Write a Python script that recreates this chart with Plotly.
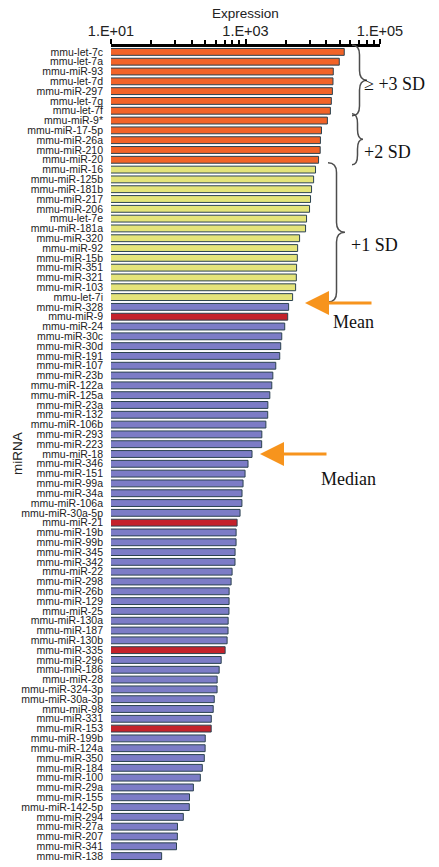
import plotly.graph_objects as go

mirnas = [
    "mmu-let-7c", "mmu-let-7a", "mmu-miR-93", "mmu-let-7d", "mmu-miR-297", "mmu-let-7g",
    "mmu-let-7f", "mmu-miR-9*", "mmu-miR-17-5p", "mmu-miR-26a", "mmu-miR-210", "mmu-miR-20",
    "mmu-miR-16", "mmu-miR-125b", "mmu-miR-181b", "mmu-miR-217", "mmu-miR-206", "mmu-let-7e",
    "mmu-miR-181a", "mmu-miR-320", "mmu-miR-92", "mmu-miR-15b", "mmu-miR-351", "mmu-miR-321",
    "mmu-miR-103", "mmu-let-7i", "mmu-miR-328", "mmu-miR-9", "mmu-miR-24", "mmu-miR-30c",
    "mmu-miR-30d", "mmu-miR-191", "mmu-miR-107", "mmu-miR-23b", "mmu-miR-122a", "mmu-miR-125a",
    "mmu-miR-23a", "mmu-miR-132", "mmu-miR-106b", "mmu-miR-293", "mmu-miR-223", "mmu-miR-18",
    "mmu-miR-346", "mmu-miR-151", "mmu-miR-99a", "mmu-miR-34a", "mmu-miR-106a", "mmu-miR-30a-5p",
    "mmu-miR-21", "mmu-miR-19b", "mmu-miR-99b", "mmu-miR-345", "mmu-miR-342", "mmu-miR-22",
    "mmu-miR-298", "mmu-miR-26b", "mmu-miR-129", "mmu-miR-25", "mmu-miR-130a", "mmu-miR-187",
    "mmu-miR-130b", "mmu-miR-335", "mmu-miR-296", "mmu-miR-186", "mmu-miR-28", "mmu-miR-324-3p",
    "mmu-miR-30a-3p", "mmu-miR-98", "mmu-miR-331", "mmu-miR-153", "mmu-miR-199b", "mmu-miR-124a",
    "mmu-miR-350", "mmu-miR-184", "mmu-miR-100", "mmu-miR-29a", "mmu-miR-155", "mmu-miR-142-5p",
    "mmu-miR-294", "mmu-miR-27a", "mmu-miR-207", "mmu-miR-341", "mmu-miR-138",
]

expression = [
    29400, 24800, 20200, 20000, 19600, 18900, 18300, 16500, 13500, 13000, 12900, 12200,
    11000, 10300, 9600, 9270, 8960, 8090, 7820, 6370, 5960, 5900, 5750, 5700,
    5560, 5020, 4380, 4240, 3830, 3460, 3340, 3230, 2820, 2550, 2460, 2300,
    2150, 2140, 2010, 1750, 1740, 1250, 1090, 985, 920, 888, 885, 830,
    750, 725, 724, 700, 698, 632, 611, 571, 570, 568, 552, 550,
    533, 498, 435, 406, 379, 378, 343, 331, 310, 309, 252, 251,
    244, 228, 213, 168, 147, 146, 119, 97.4, 97, 94.2, 56.6,
]

# group sizes: >= +3 SD / +2 SD (orange), +1 SD (yellow), rest (blue)
n_sd2_or_more = 12
n_sd1 = 14
highlighted = ["mmu-miR-9", "mmu-miR-21", "mmu-miR-335", "mmu-miR-153"]

tick_major = [10, 1000, 100000]
tick_major_text = ["1.E+01", "1.E+03", "1.E+05"]
tick_minor = [40, 90, 160, 250, 360, 490, 640, 810,
              4000, 9000, 16000, 25000, 36000, 49000, 64000, 81000]

ORANGE = "#F26328"
YELLOW = "#E4E47A"
BLUE = "#7C7CC6"
RED = "#C4222B"

colors = []
for i, name in enumerate(mirnas):
    if name in highlighted:
        colors.append(RED)
    elif i < n_sd2_or_more:
        colors.append(ORANGE)
    elif i < n_sd2_or_more + n_sd1:
        colors.append(YELLOW)
    else:
        colors.append(BLUE)

fig = go.Figure(go.Bar(
    x=expression, y=mirnas, orientation="h",
    marker=dict(color=colors, line=dict(color="#2B4250", width=1)),
))

L, R, T, B = 111, 59, 47, 6
W, H = 439, 867
PW, PH = W - L - R, H - T - B
N = len(mirnas)

def px(x):
    return (x - L) / PW

def py(y):
    return (H - B - y) / PH

def idx_y(i):
    return 1 - (i + 0.5) / N

def brace(x0, ytop, ybot, w, ymid=None, r=0.012):
    if ymid is None:
        ymid = (ytop + ybot) / 2
    xm = x0 + w / 2
    xt = x0 + w
    return (f"M {x0},{ytop} Q {xm},{ytop} {xm},{ytop - r} L {xm},{ymid + r} "
            f"Q {xm},{ymid} {xt},{ymid} Q {xm},{ymid} {xm},{ymid - r} "
            f"L {xm},{ybot + r} Q {xm},{ybot} {x0},{ybot}")

shapes = []
groups = [(0, 6, px(352), px(367)), (7, 11, px(352), px(363)), (12, 25, px(328), px(345))]
for g0, g1, xa, xb in groups:
    ytop = 1 - (g0 - 0.2) / N
    ybot = 1 - (g1 + 1.0) / N
    shapes.append(dict(type="path", xref="paper", yref="paper",
                       path=brace(xa, ytop, ybot, xb - xa),
                       line=dict(color="#4d4d4d", width=1.5)))

serif = dict(family="Liberation Serif, Times New Roman, serif", size=18, color="#111")
annotations = [
    dict(x=px(362), y=py(72), xref="paper", yref="paper", text="≥ +3 SD",
         showarrow=False, xanchor="left", font=serif),
    dict(x=px(362), y=py(140), xref="paper", yref="paper", text="+2 SD",
         showarrow=False, xanchor="left", font=serif),
    dict(x=px(349), y=py(233), xref="paper", yref="paper", text="+1 SD",
         showarrow=False, xanchor="left", font=serif),
    dict(x=px(353), y=py(322), xref="paper", yref="paper", text="Mean",
         showarrow=False, xanchor="center", font=serif),
    dict(x=px(348), y=py(479), xref="paper", yref="paper", text="Median",
         showarrow=False, xanchor="center", font=serif),
    dict(x=px(305), y=idx_y(25.6), xref="paper", yref="paper", text="",
         showarrow=True, ax=68, ay=0, arrowhead=2, arrowsize=1.6, arrowwidth=3,
         arrowcolor="#F7941D"),
    dict(x=px(260), y=idx_y(41), xref="paper", yref="paper", text="",
         showarrow=True, ax=68, ay=0, arrowhead=2, arrowsize=1.6, arrowwidth=3,
         arrowcolor="#F7941D"),
    dict(x=px(17), y=0.5, xref="paper", yref="paper", text="miRNA", textangle=-90,
         showarrow=False, xanchor="center", yanchor="middle",
         font=dict(family="Liberation Sans, Arial, sans-serif", size=13.5, color="#222")),
]

sans = "Liberation Sans, Arial, sans-serif"
fig.update_layout(
    width=W, height=H,
    margin=dict(l=L, r=R, t=T, b=B, autoexpand=False),
    paper_bgcolor="white", plot_bgcolor="white",
    showlegend=False, bargap=0.3,
    shapes=shapes, annotations=annotations,
    font=dict(family=sans, color="#222"),
    xaxis=dict(
        type="log", range=[1, 5], side="top",
        tickmode="array", tickvals=tick_major, ticktext=tick_major_text,
        tickfont=dict(size=14.5, color="#222"),
        ticks="outside", ticklen=5, tickwidth=1.5, tickcolor="black",
        ticklabelstandoff=-3,
        minor=dict(tickmode="array", tickvals=tick_minor, ticks="outside",
                   ticklen=4, tickwidth=1.5, tickcolor="black", showgrid=False),
        showline=True, linewidth=3, linecolor="black",
        showgrid=False, zeroline=False,
        title=dict(text="Expression", font=dict(size=13.5, color="#222"), standoff=2),
    ),
    yaxis=dict(
        type="category", autorange="reversed",
        tickmode="array", tickvals=mirnas, ticktext=mirnas,
        tickfont=dict(size=10.5, color="#222"),
        ticks="", ticklabelstandoff=7,
        showline=False, showgrid=False, zeroline=False,
    ),
)

fig.write_html("out.html", config={"displayModeBar": False},
               post_script="document.body.style.margin='0';")
